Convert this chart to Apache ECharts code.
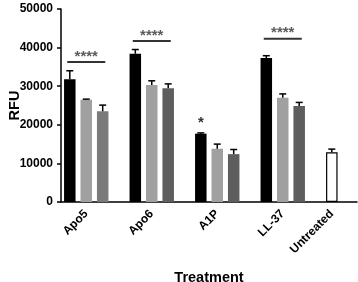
<!DOCTYPE html>
<html>
<head>
<meta charset="utf-8">
<script src="https://cdn.jsdelivr.net/npm/echarts@6/dist/echarts.min.js"></script>
<style>
html,body{margin:0;padding:0;background:#fff;}
#chart{width:358px;height:282px;}
</style>
</head>
<body>
<div id="chart"></div>
<script>
// ---- data ----
const categories = ['Apo5', 'Apo6', 'A1P', 'LL-37', 'Untreated'];
const yTicks = [0, 10000, 20000, 30000, 40000, 50000];
// black (first bar in each group)
const mean1 = [31800, 38400, 17700, 37300, null];
const sem1  = [2200, 1100, 200, 600, null];
// light gray (second bar)
const mean2 = [26500, 30300, 13800, 27000, null];
const sem2  = [150, 1100, 1200, 1000, null];
// dark gray (third bar)
const mean3 = [23500, 29500, 12400, 24900, null];
const sem3  = [1600, 1100, 1200, 900, null];
// untreated control (single open bar)
const untreatedMean = 12900;
const untreatedSem = 800;
// significance annotations
const sigGroups = ['Apo5', 'Apo6', 'LL-37'];
const sigHeights = [36300, 41700, 42300];
const sigText = ['****', '****', '****'];
const singleStarGroup = 'A1P';

// ---- style constants ----
const FONT = 'Liberation Sans, Arial, sans-serif';
const BAR_W = 11.5;
const BAR_GAP = 0.43;
const PITCH = BAR_W * (1 + BAR_GAP);

const uIdx = categories.indexOf('Untreated');
const starIdx = categories.indexOf(singleStarGroup);

function blackData() {
  return mean1.map((v, i) => {
    if (i === uIdx) {
      return { value: untreatedMean, itemStyle: { color: '#ffffff', borderColor: '#000', borderWidth: 1.2 } };
    }
    if (i === starIdx) {
      return { value: v, label: { show: true, position: 'top', distance: 3, formatter: '*',
        fontSize: 15, fontWeight: 'bold', color: '#333', fontFamily: FONT } };
    }
    return v;
  });
}
const darkData = mean3.map((v, i) => v == null ? '-' : (i === 0 ? { value: v, itemStyle: { color: '#7a7a7a' } } : v));
const grayData = mean2.map(v => v == null ? '-' : v);

function errData(means, sems, slot) {
  const out = [];
  means.forEach((m, i) => { if (m != null) out.push([i, m, sems[i], slot]); });
  return out;
}
const err1 = errData(mean1, sem1, 0);
err1.push([uIdx, untreatedMean, untreatedSem, 0]);
const err2 = errData(mean2, sem2, 1);
const err3 = errData(mean3, sem3, 2);

function renderErr(params, api) {
  const i = api.value(0), m = api.value(1), s = api.value(2), slot = api.value(3);
  const base = api.coord([i, m]);
  const top = api.coord([i, m + s]);
  const x = base[0] + (slot - 1) * PITCH;
  const cap = 3.5;
  const st = { stroke: '#000', lineWidth: 1.5 };
  return { type: 'group', children: [
    { type: 'line', shape: { x1: x, y1: base[1], x2: x, y2: top[1] }, style: st },
    { type: 'line', shape: { x1: x - cap, y1: top[1], x2: x + cap, y2: top[1] }, style: st }
  ]};
}

const chart = echarts.init(document.getElementById('chart'), null, { renderer: 'canvas' });

const shift = PITCH; // untreated bar sits in the first slot of its group
const aShift = shift / Math.SQRT2;

chart.setOption({
  animation: false,
  backgroundColor: '#ffffff',
  grid: [
    { left: 61, right: 1, top: 9, bottom: 80, outerBoundsMode: 'none', containLabel: false },
    { left: 53.5, width: 327.5, top: 9, bottom: 80, outerBoundsMode: 'none', containLabel: false }
  ],
  xAxis: [
    { gridIndex: 0, type: 'value', min: 0, max: 1,
      axisLine: { show: true, lineStyle: { color: '#000', width: 1.5 } },
      axisTick: { show: false }, axisLabel: { show: false }, splitLine: { show: false },
      name: 'Treatment', nameLocation: 'middle', nameGap: 68, nameMoveOverlap: false,
      nameTextStyle: { fontFamily: FONT, fontWeight: 'bold', fontSize: 14.5, color: '#000' } },
    { gridIndex: 1, type: 'category', data: categories,
      axisLine: { show: false }, axisTick: { show: false },
      axisLabel: { rotate: 45, margin: 10, fontFamily: FONT, fontWeight: 'bold', fontSize: 12, color: '#000',
        interval: 0,
        formatter: v => v === 'Untreated' ? '{u|' + v + '}' : v,
        rich: { u: { fontFamily: FONT, fontWeight: 'bold', fontSize: 12, color: '#000',
          padding: [0, aShift, 2 * aShift, 0] } } } }
  ],
  yAxis: [
    { gridIndex: 0, type: 'value', min: yTicks[0], max: yTicks[yTicks.length - 1], interval: yTicks[1] - yTicks[0],
      axisLine: { show: true, lineStyle: { color: '#000', width: 1.5 } },
      axisTick: { show: true, length: 4, lineStyle: { color: '#000', width: 1.5 } },
      axisLabel: { margin: 8, fontFamily: FONT, fontWeight: 'bold', fontSize: 12, color: '#000',
        formatter: v => String(v) },
      splitLine: { show: false },
      name: 'RFU', nameLocation: 'middle', nameGap: 39, nameRotate: 90, nameMoveOverlap: false,
      nameTextStyle: { fontFamily: FONT, fontWeight: 'bold', fontSize: 14.5, color: '#000' } },
    { gridIndex: 1, type: 'value', min: yTicks[0], max: yTicks[yTicks.length - 1], show: false }
  ],
  series: [
    { type: 'bar', xAxisIndex: 1, yAxisIndex: 1, data: blackData(), barWidth: BAR_W, barGap: (BAR_GAP * 100) + '%',
      itemStyle: { color: '#000000' } },
    { type: 'bar', xAxisIndex: 1, yAxisIndex: 1, data: grayData, barWidth: BAR_W, barGap: (BAR_GAP * 100) + '%',
      itemStyle: { color: '#a0a0a0' } },
    { type: 'bar', xAxisIndex: 1, yAxisIndex: 1, data: darkData, barWidth: BAR_W, barGap: (BAR_GAP * 100) + '%',
      itemStyle: { color: '#5e5e5e' } },
    { type: 'custom', xAxisIndex: 1, yAxisIndex: 1, renderItem: renderErr, data: err1, z: 3 },
    { type: 'custom', xAxisIndex: 1, yAxisIndex: 1, renderItem: renderErr, data: err2, z: 3 },
    { type: 'custom', xAxisIndex: 1, yAxisIndex: 1, renderItem: renderErr, data: err3, z: 3 },
    { type: 'scatter', xAxisIndex: 1, yAxisIndex: 1, symbol: 'rect', symbolSize: [38, 2],
      itemStyle: { color: '#000' },
      data: sigGroups.map((g, k) => ({ value: [g, sigHeights[k]],
        label: { show: true, position: 'top', distance: -3, formatter: sigText[k],
          fontFamily: FONT, fontWeight: 'bold', fontSize: 15, color: '#333' } })) }
  ]
});
</script>
</body>
</html>
